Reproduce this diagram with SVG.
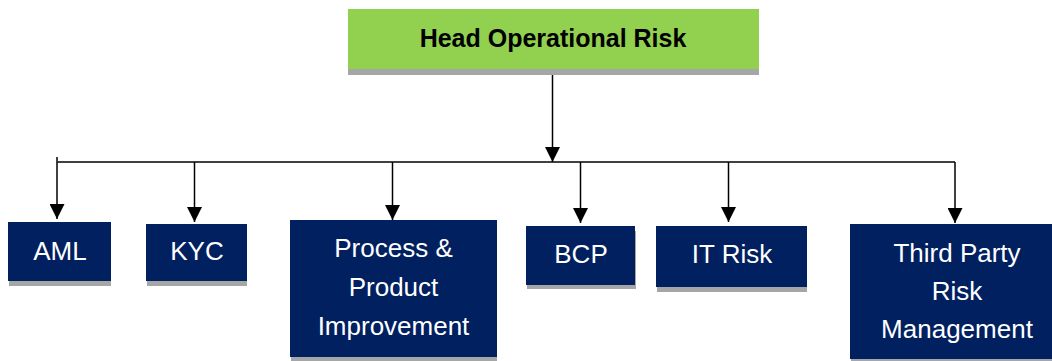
<svg xmlns="http://www.w3.org/2000/svg" width="1052" height="361" viewBox="0 0 1052 361">
<style>
.shadow{fill:#A6A6A6}
.box{fill:#002060}
.head{fill:#92D050}
.t{font-family:"Liberation Sans",Arial,sans-serif;font-size:26px;fill:#FFFFFF;text-anchor:middle}
.ht{font-family:"Liberation Sans",Arial,sans-serif;font-size:25px;font-weight:bold;fill:#000000;text-anchor:middle}
.bus{stroke:#404040;stroke-width:2;fill:none}
.drop{stroke:#000000;stroke-width:1.5;fill:none;marker-end:url(#arr)}
</style>
<defs>
<marker id="arr" markerWidth="15" markerHeight="15" refX="15" refY="7.5" orient="auto" markerUnits="userSpaceOnUse">
<path d="M0,0 L15,7.5 L0,15 Z" fill="#000000"/>
</marker>
</defs>
<rect width="1052" height="361" fill="#FFFFFF"/>
<g id="connectors">
<path class="bus" d="M57,162 H955"/>
<path class="bus" d="M57,157 V162"/>
<path class="drop" d="M552.5,75 V162"/>
<path class="drop" d="M57,162 V219"/>
<path class="drop" d="M194.5,162 V222"/>
<path class="drop" d="M392.5,162 V220"/>
<path class="drop" d="M580.5,162 V223"/>
<path class="drop" d="M728.5,162 V222"/>
<path class="drop" d="M955,162 V223"/>
</g>
<g id="head">
<rect class="shadow" x="348" y="14" width="411" height="61"/>
<rect class="head" x="348" y="9" width="411" height="60"/>
<text class="ht" x="553" y="47">Head Operational Risk</text>
</g>
<g id="aml">
<rect class="shadow" x="9" y="227" width="102" height="59"/>
<rect class="box" x="8" y="222" width="103" height="59"/>
<text class="t" x="60" y="260">AML</text>
</g>
<g id="kyc">
<rect class="shadow" x="147" y="229" width="100" height="57"/>
<rect class="box" x="146" y="224" width="101" height="57"/>
<text class="t" x="197" y="260">KYC</text>
</g>
<g id="process">
<rect class="shadow" x="291" y="225" width="206" height="136"/>
<rect class="box" x="290" y="220" width="207" height="137"/>
<text class="t" x="393.5" y="257">Process &amp;</text>
<text class="t" x="393.5" y="296">Product</text>
<text class="t" x="393.5" y="335">Improvement</text>
</g>
<g id="bcp">
<rect class="shadow" x="527" y="231" width="109" height="58"/>
<rect class="box" x="526" y="226" width="109" height="59"/>
<text class="t" x="581" y="263">BCP</text>
</g>
<g id="itrisk">
<rect class="shadow" x="657" y="231" width="150" height="61"/>
<rect class="box" x="656" y="226" width="151" height="61"/>
<text class="t" x="732" y="263">IT Risk</text>
</g>
<g id="thirdparty">
<rect class="shadow" x="851" y="229" width="201" height="135"/>
<rect class="box" x="850" y="224" width="202" height="135"/>
<text class="t" x="957" y="262">Third Party</text>
<text class="t" x="957" y="300">Risk</text>
<text class="t" x="957" y="338">Management</text>
</g>
</svg>
